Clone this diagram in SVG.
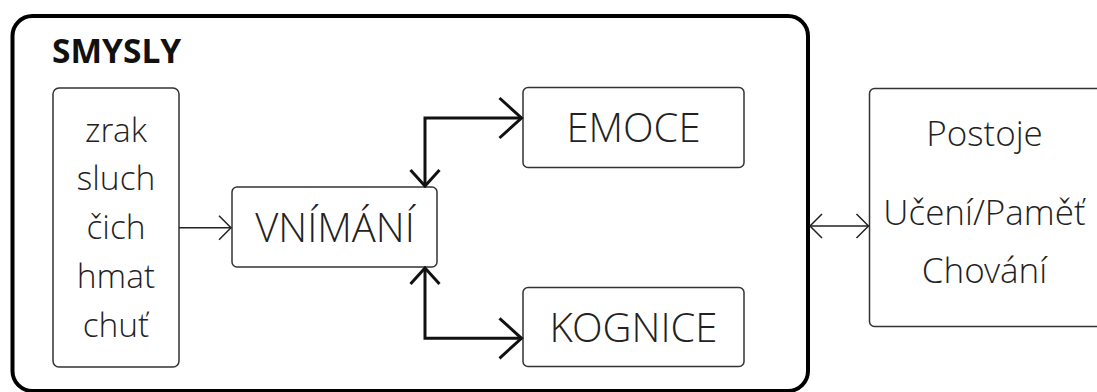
<svg xmlns="http://www.w3.org/2000/svg" width="1097" height="392" viewBox="0 0 1097 392">
<style>
.box{fill:#fff;stroke:#333;stroke-width:1.5}
.t{font-family:"Open Sans Light","Open Sans","Liberation Sans",sans-serif;font-weight:300;fill:#222;text-anchor:middle}
.thin{fill:none;stroke:#222;stroke-width:1.5}
.thick{fill:none;stroke:#111;stroke-width:3}
</style>
<defs>
<marker id="hs" markerUnits="userSpaceOnUse" viewBox="-2 -2 18 28" refX="12" refY="12" markerWidth="18" markerHeight="28" orient="auto-start-reverse" overflow="visible">
<path d="M0,0 L12,12 L0,24" fill="none" stroke="#222" stroke-width="1.5"/>
</marker>
<marker id="hb" markerUnits="userSpaceOnUse" viewBox="-3 -3 28 46" refX="22" refY="20" markerWidth="28" markerHeight="46" orient="auto-start-reverse" overflow="visible">
<path d="M0,0 L22,20 L0,40" fill="none" stroke="#111" stroke-width="3"/>
</marker>
<marker id="hm" markerUnits="userSpaceOnUse" viewBox="-3 -3 22 35" refX="16" refY="14.5" markerWidth="22" markerHeight="35" orient="auto-start-reverse" overflow="visible">
<path d="M0,0 L16,14.5 L0,29" fill="none" stroke="#111" stroke-width="3"/>
</marker>
</defs>
<g id="smysly">
<rect x="12.5" y="16" width="795.5" height="375" rx="20" fill="#fff" stroke="#000" stroke-width="4"/>
<text x="52" y="63" font-family="'Open Sans','Liberation Sans',sans-serif" font-weight="700" font-size="33.5" fill="#111">SMYSLY</text>
</g>
<g id="smysly-list">
<rect class="box" x="53" y="88" width="126" height="279" rx="6"/>
<text class="t" x="116" y="141.5" font-size="33.5">zrak</text>
<text class="t" x="116" y="190" font-size="33.5">sluch</text>
<text class="t" x="116" y="239" font-size="33.5">čich</text>
<text class="t" x="116" y="288" font-size="33.5">hmat</text>
<text class="t" x="116" y="337" font-size="33.5">chuť</text>
</g>
<g id="vnimani">
<rect class="box" x="232" y="187" width="205" height="80" rx="5"/>
<text class="t" x="335" y="241.7" font-size="40">VNÍMÁNÍ</text>
</g>
<g id="emoce">
<rect class="box" x="523" y="87.5" width="221" height="80" rx="5"/>
<text class="t" x="633.5" y="142.3" font-size="40">EMOCE</text>
</g>
<g id="kognice">
<rect class="box" x="523" y="287.5" width="221" height="79" rx="5"/>
<text class="t" x="633.5" y="341.7" font-size="40">KOGNICE</text>
</g>
<g id="vysledky">
<rect class="box" x="869.5" y="88.5" width="240" height="238" rx="5"/>
<text class="t" x="984.5" y="146" font-size="35">Postoje</text>
<text class="t" x="984.5" y="225" font-size="35">Učení/Paměť</text>
<text class="t" x="984.5" y="283.3" font-size="35">Chování</text>
</g>
<g id="connectors">
<path class="thin" d="M179,227.7 H231" marker-end="url(#hs)"/>
<path class="thin" d="M810,226 H868.5" marker-start="url(#hs)" marker-end="url(#hs)"/>
<path class="thick" d="M425,186 V118 H521.5" marker-start="url(#hm)" marker-end="url(#hb)"/>
<path class="thick" d="M425,268 V338.3 H521.5" marker-start="url(#hm)" marker-end="url(#hb)"/>
</g>
</svg>
